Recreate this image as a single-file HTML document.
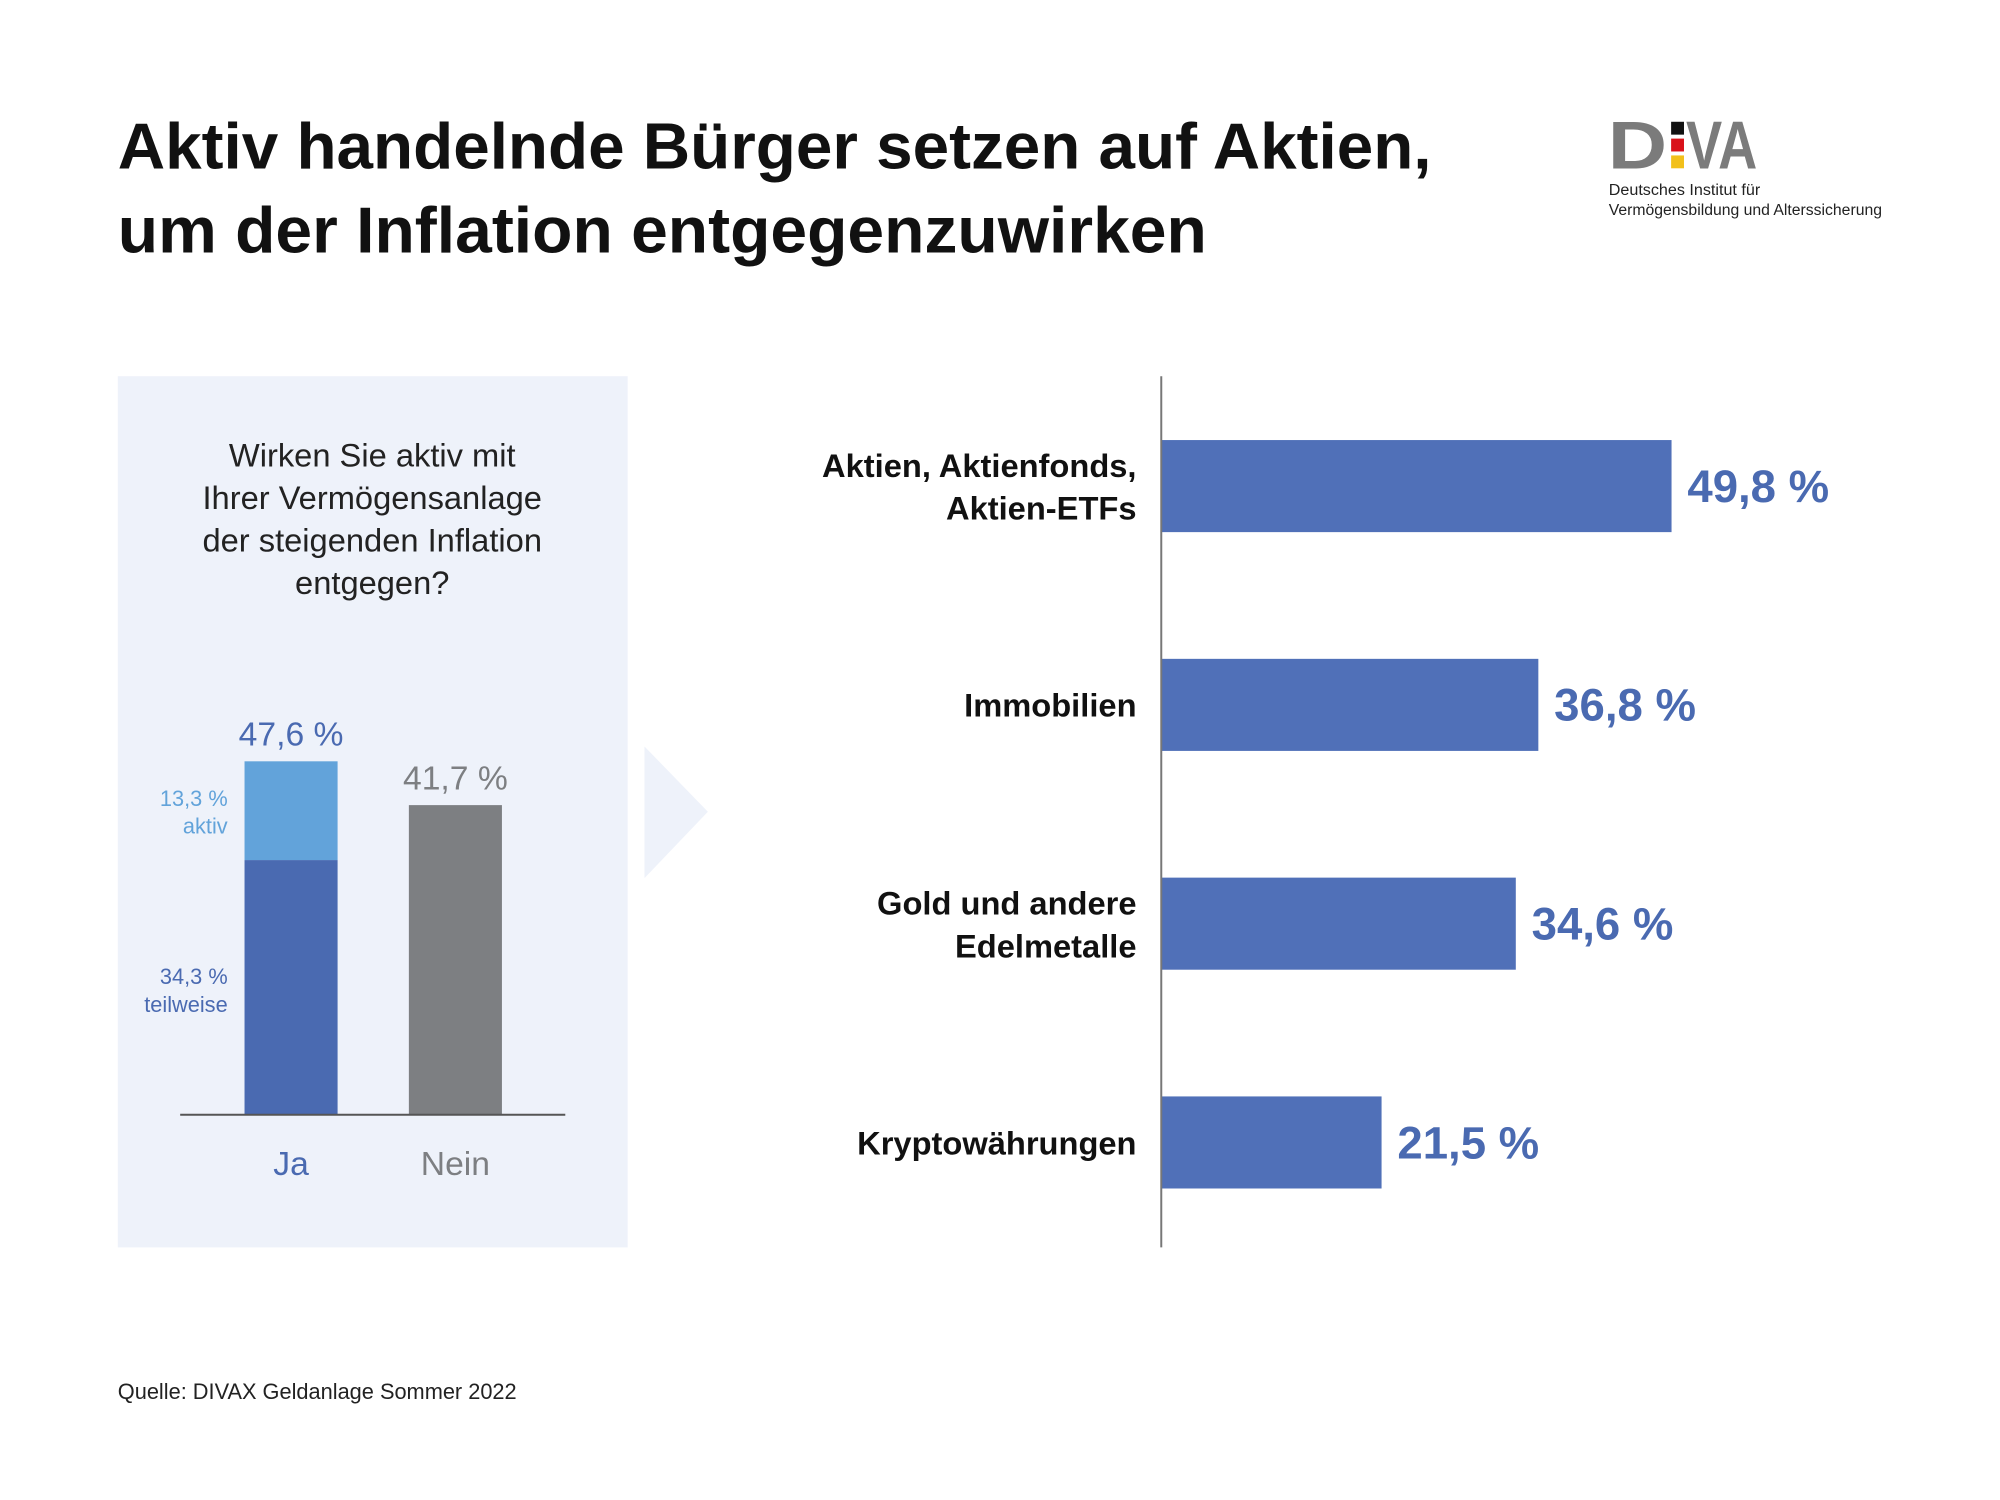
<!DOCTYPE html>
<html><head><meta charset="utf-8"><style>
html,body{margin:0;padding:0;background:#fff}
svg{display:block;font-family:"Liberation Sans",sans-serif}
</style></head><body>
<svg id="chart" width="2000" height="1500" viewBox="0 0 2000 1500">
<g transform="scale(0.99)">
<g font-weight="bold" font-size="66" fill="#111">
<text x="119" y="170" textLength="1327" lengthAdjust="spacingAndGlyphs">Aktiv handelnde Bürger setzen auf Aktien,</text>
<text x="119" y="255" textLength="1100" lengthAdjust="spacingAndGlyphs">um der Inflation entgegenzuwirken</text>
</g>
<g>
<text x="1624" y="170" font-size="68" font-weight="bold" fill="#7b7b7b" textLength="60" lengthAdjust="spacingAndGlyphs">D</text>
<rect x="1688" y="123" width="13" height="13" fill="#111"/>
<rect x="1688" y="140" width="13" height="13" fill="#d9121a"/>
<rect x="1688" y="157" width="13" height="13" fill="#f2c01a"/>
<text x="1703" y="170" font-size="68" font-weight="bold" fill="#7b7b7b" textLength="72" lengthAdjust="spacingAndGlyphs">VA</text>
<text x="1625" y="197" font-size="16" fill="#222" textLength="153" lengthAdjust="spacingAndGlyphs">Deutsches Institut für</text>
<text x="1625" y="217" font-size="16" fill="#222" textLength="276" lengthAdjust="spacingAndGlyphs">Vermögensbildung und Alterssicherung</text>
</g>
<rect x="119" y="380" width="515" height="880" fill="#eef2fa"/>
<polygon points="651,754 715,820 651,887" fill="#eef2fa"/>
<g font-size="33" fill="#222" text-anchor="middle">
<text x="376" y="471">Wirken Sie aktiv mit</text>
<text x="376" y="514">Ihrer Vermögensanlage</text>
<text x="376" y="557">der steigenden Inflation</text>
<text x="376" y="600">entgegen?</text>
</g>
<g id="left"></g>
<g id="right"></g>
<line x1="1173" y1="380" x2="1173" y2="1260" stroke="#777" stroke-width="2"/>
<text x="119" y="1413" font-size="22" fill="#222">Quelle: DIVAX Geldanlage Sommer 2022</text>
</g>
</svg>
<script>
const leftCats = ["Ja","Nein"];
const jaTeilweise = 34.3;
const jaAktiv = 13.3;
const neinValue = 41.7;
const leftTotals = ["47,6 %","41,7 %"];
const rightCats = [["Aktien, Aktienfonds,","Aktien-ETFs"],["Immobilien"],["Gold und andere","Edelmetalle"],["Kryptowährungen"]];
const rightValues = [49.8, 36.8, 34.6, 21.5];
const rightLabels = ["49,8 %","36,8 %","34,6 %","21,5 %"];

const NS="http://www.w3.org/2000/svg";
function mk(tag,attrs,parent,txt){const e=document.createElementNS(NS,tag);for(const k in attrs)e.setAttribute(k,attrs[k]);if(txt!==undefined)e.textContent=txt;parent.appendChild(e);return e;}
const base=1126, ppu=7.5;
const yL=v=>base-v*ppu;
const xL=i=>247+i*166;
const bw=94;
const L=document.getElementById('left');
let r=mk('rect',{x:xL(0),y:yL(jaTeilweise),width:bw,height:base-yL(jaTeilweise),fill:'#4a6ab1'},L);


r=mk('rect',{x:xL(0),y:yL(jaTeilweise+jaAktiv),width:bw,height:jaAktiv*ppu,fill:'#62a3da'},L);


r=mk('rect',{x:xL(1),y:yL(neinValue),width:bw,height:base-yL(neinValue),fill:'#7d7f82'},L);


let ln=mk('line',{x1:182,y1:base,x2:571,y2:base,stroke:'#555','stroke-width':2},L);


const tots=[jaTeilweise+jaAktiv,neinValue], totCol=['#4a6ab1','#7d7f82'];
tots.forEach((v,i)=>{
  let t=mk('text',{x:xL(i)+bw/2,y:yL(v)-16,'font-size':34,'text-anchor':'middle',fill:totCol[i]},L,leftTotals[i]);
  
  
  let c=mk('text',{x:xL(i)+bw/2,y:1187,'font-size':34,'text-anchor':'middle',fill:totCol[i]},L,leftCats[i]);
  
  
});
function segLabel(v,a,b,col,name){
  const y=yL(v);
  let g=mk('g',{'font-size':22,'text-anchor':'end',fill:col},L);
  
  
  mk('text',{x:230,y:y},g,a);mk('text',{x:230,y:y+28},g,b);
}
segLabel(jaTeilweise+jaAktiv-6,"13,3 %","aktiv",'#62a3da','segment-label-aktiv');
segLabel(jaTeilweise*0.6-3,"34,3 %","teilweise",'#4a6ab1','segment-label-teilweise');
const x0=1173, pr=10.35, bh=93;
const xR=v=>x0+v*pr;
const yR=i=>491+i*221;
const R=document.getElementById('right');
rightValues.forEach((v,i)=>{
  let b=mk('rect',{x:x0,y:yR(i)-bh/2,width:xR(v)-x0,height:bh,fill:'#5070b8'},R);
  
  
  let t=mk('text',{x:xR(v)+16,y:yR(i)+16,'font-size':46,'font-weight':'bold',fill:'#4a6ab1'},R,rightLabels[i]);
  
  
  const lines=rightCats[i];
  let g=mk('g',{'font-size':33,'font-weight':'bold','text-anchor':'end',fill:'#111'},R);
  
  
  const y0=yR(i)+12-(lines.length-1)*21;
  lines.forEach((s,j)=>mk('text',{x:1148,y:y0+j*43},g,s));
});
</script>
</body></html>
